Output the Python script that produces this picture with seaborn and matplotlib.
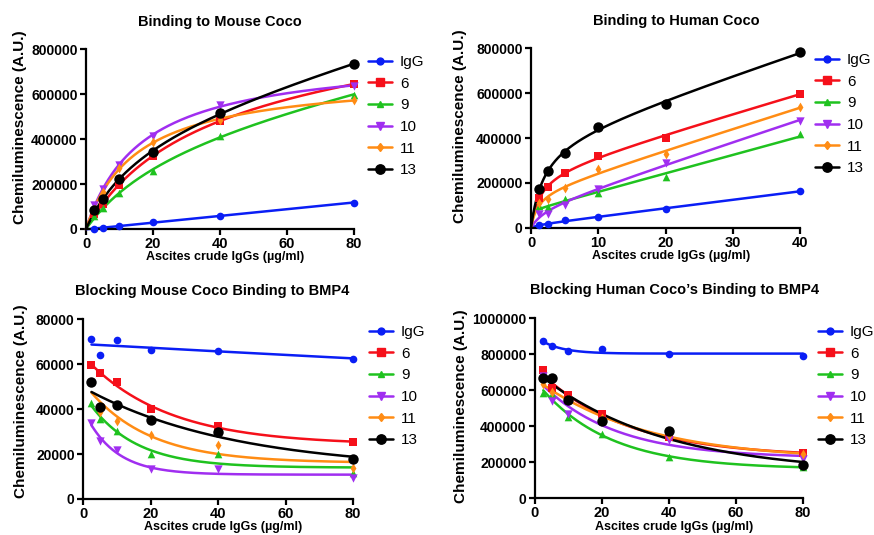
import numpy as np
import matplotlib
matplotlib.use('Agg')
import matplotlib.pyplot as plt
import seaborn as sns
from matplotlib.lines import Line2D

# ---- data ----
series = ['IgG', '6', '9', '10', '11', '13']

x_mouse = [2.5, 5, 10, 20, 40, 80]
mouse_bind = {
    'IgG': [2000, 3000, 13000, 31000, 59000, 117000],
    '6':   [68000, 110000, 197000, 326000, 481000, 645000],
    '9':   [56000, 95000, 160000, 257000, 414000, 598000],
    '10':  [108000, 179000, 286000, 415000, 550000, 638000],
    '11':  [90000, 165000, 272000, 387000, 487000, 573000],
    '13':  [83000, 132000, 223000, 341000, 518000, 734000],
}

x_human = [1.25, 2.5, 5, 10, 20, 40]
human_bind = {
    'IgG': [12000, 16000, 33000, 50000, 84000, 164000],
    '6':   [133000, 183000, 243000, 320000, 402000, 598000],
    '9':   [96000, 92000, 127000, 154000, 225000, 416000],
    '10':  [62000, 64000, 104000, 173000, 291000, 476000],
    '11':  [109000, 129000, 176000, 260000, 331000, 537000],
    '13':  [172000, 253000, 334000, 450000, 552000, 781000],
}

x_block = [2.5, 5, 10, 20, 40, 80]
mouse_block = {
    'IgG': [71000, 64200, 70500, 66400, 66000, 62400],
    '6':   [59500, 55900, 51900, 39800, 32500, 25300],
    '9':   [42600, 35400, 30200, 20000, 20000, 11400],
    '10':  [33600, 25900, 21600, 13300, 13200, 9200],
    '11':  [51800, 38800, 34800, 28400, 24000, 13900],
    '13':  [52100, 41000, 42000, 34900, 30000, 18000],
}
human_block = {
    'IgG': [873000, 843000, 817000, 827000, 803000, 790000],
    '6':   [710000, 609000, 570000, 465000, 341000, 249000],
    '9':   [585000, 576000, 448000, 354000, 231000, 172000],
    '10':  [679000, 539000, 467000, 428000, 323000, 216000],
    '11':  [635000, 590000, 553000, 443000, 350000, 245000],
    '13':  [668000, 668000, 544000, 430000, 375000, 186000],
}

colors = {'IgG': '#0a1ef5', '6': '#f5101a', '9': '#1fc21f',
          '10': '#a02ef0', '11': '#ff8c14', '13': '#000000'}
markers = {'IgG': 'o', '6': 's', '9': '^', '10': 'v', '11': 'd', '13': 'o'}
msize = {'IgG': 5.5, '6': 6, '9': 5.5, '10': 6, '11': 5, '13': 7.5}


def fit_binding(x, y):
    # one site total binding: Bmax*x/(Kd+x) + NS*x
    x = np.asarray(x, float); y = np.asarray(y, float)
    best = None
    for kd in np.logspace(-1, 3, 500):
        A = np.column_stack([x / (kd + x), x])
        coef = np.linalg.lstsq(A, y, rcond=None)[0]
        err = np.sum((A @ coef - y) ** 2)
        if best is None or err < best[0]:
            best = (err, kd, coef)
    _, kd, (bmax, ns) = best
    return lambda t: bmax * t / (kd + t) + ns * t


def fit_decay(x, y):
    # one phase decay: plateau + span*exp(-k*x)
    x = np.asarray(x, float); y = np.asarray(y, float)
    best = None
    for k in np.logspace(-3, 0.5, 500):
        A = np.column_stack([np.ones_like(x), np.exp(-k * x)])
        coef = np.linalg.lstsq(A, y, rcond=None)[0]
        err = np.sum((A @ coef - y) ** 2)
        if best is None or err < best[0]:
            best = (err, k, coef)
    _, k, (p, s) = best
    return lambda t: p + s * np.exp(-k * t)


sns.set_theme(style='ticks')
plt.rcParams['font.family'] = ['Liberation Sans', 'DejaVu Sans']
plt.rcParams['text.color'] = 'black'
plt.rcParams['axes.labelcolor'] = 'black'
plt.rcParams['axes.titlecolor'] = 'black'

fig = plt.figure(figsize=(8.74, 5.35), dpi=100)

panels = [
    # title, x, data, kind, rect, xticks, yticks, legend anchor, ylabel xy, title x
    ('Binding to Mouse Coco', x_mouse, mouse_bind, 'bind',
     [0.0984, 0.572, 0.3066, 0.336], [0, 20, 40, 60, 80],
     np.arange(0, 800001, 200000), (368, 55), (-0.22, 0.565), 0.5),
    ('Binding to Human Coco', x_human, human_bind, 'bind',
     [0.6076, 0.574, 0.3077, 0.336], [0, 10, 20, 30, 40],
     np.arange(0, 800001, 200000), (815, 53), (-0.238, 0.565), 0.54),
    ('Blocking Mouse Coco Binding to BMP4', x_block, mouse_block, 'decay',
     [0.0950, 0.0673, 0.309, 0.3364], [0, 20, 40, 60, 80],
     np.arange(0, 80001, 20000), (369, 325), (-0.204, 0.545), 0.48),
    ('Blocking Human Coco\u2019s Binding to BMP4', x_block, human_block, 'decay',
     [0.612, 0.069, 0.3066, 0.3364], [0, 20, 40, 60, 80],
     np.arange(0, 1000001, 200000), (818, 325), (-0.25, 0.51), 0.52),
]

for title, xs, data, kind, rect, xt, yt, lg, ylxy, tx in panels:
    ax = fig.add_axes(rect)
    x0 = 0 if kind == 'bind' else xs[0]
    grid = np.linspace(x0, xs[-1], 300)
    for name in series:
        ys = data[name]
        f = fit_binding(xs, ys) if kind == 'bind' else fit_decay(xs, ys)
        sns.lineplot(x=grid, y=f(grid), color=colors[name], lw=1.8, ax=ax,
                     legend=False, clip_on=False)
        sns.scatterplot(x=xs, y=ys, color=colors[name], marker=markers[name],
                        s=msize[name] ** 2, linewidth=0, ax=ax, legend=False,
                        clip_on=False, zorder=5)
    ax.set_xlim(0, xt[-1])
    ax.set_ylim(0, yt[-1])
    ax.set_xticks(xt)
    ax.set_yticks(yt)
    ax.set_xticklabels([str(v) for v in xt], fontweight='bold', fontsize=10.5)
    ax.set_yticklabels([str(v) for v in yt], fontweight='bold', fontsize=10)
    for side in ['top', 'right']:
        ax.spines[side].set_visible(False)
    for side in ['left', 'bottom']:
        ax.spines[side].set_linewidth(1.6)
        ax.spines[side].set_color('black')
    ax.tick_params(width=1.6, length=4, pad=2, colors='black')
    ax.set_title(title, fontweight='bold', fontsize=10.5, pad=17, x=tx)
    ax.set_xlabel('Ascites crude IgGs (\u00b5g/ml)', fontweight='bold', fontsize=9)
    ax.xaxis.set_label_coords(0.52, -0.125)
    ax.set_ylabel('Chemiluminescence (A.U.)', fontweight='bold', fontsize=11)
    ax.yaxis.set_label_coords(*ylxy)

    handles = [Line2D([], [], color=colors[n], marker=markers[n], lw=1.8,
                      markersize=msize[n] * 0.9) for n in series]
    ax.legend(handles, series, loc='upper left',
              bbox_to_anchor=(lg[0] / 874, 1 - lg[1] / 535),
              bbox_transform=fig.transFigure, frameon=False, fontsize=11,
              handlelength=1.6, handletextpad=0.5, labelspacing=0.5,
              borderaxespad=0, borderpad=0)

fig.savefig('out.png', dpi=100)
